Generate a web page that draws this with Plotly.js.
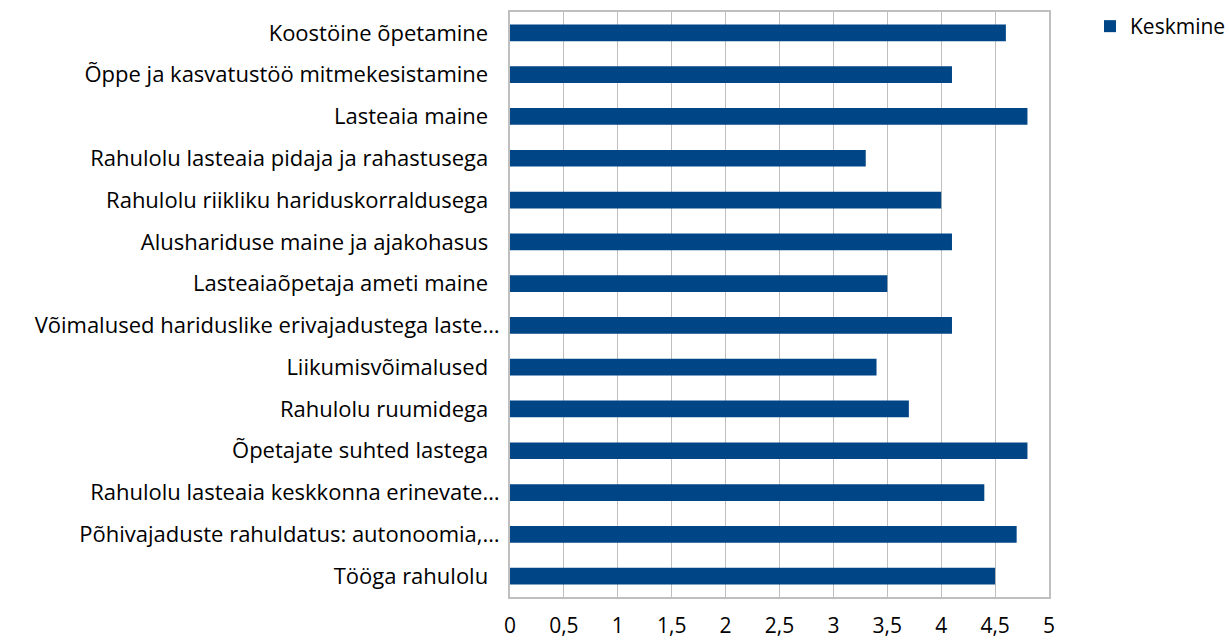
<!DOCTYPE html>
<html><head><meta charset="utf-8">
<script src="https://cdn.plot.ly/plotly-3.0.1.min.js"></script>
<style>html,body{margin:0;padding:0;background:#fff;}#c{width:1229px;height:642px;}</style>
</head><body><div id="c"></div>
<script>
const categories = [
  "Koostöine õpetamine",
  "Õppe ja kasvatustöö mitmekesistamine",
  "Lasteaia maine",
  "Rahulolu lasteaia pidaja ja rahastusega",
  "Rahulolu riikliku hariduskorraldusega",
  "Alushariduse maine ja ajakohasus",
  "Lasteaiaõpetaja ameti maine",
  "Võimalused hariduslike erivajadustega laste…",
  "Liikumisvõimalused",
  "Rahulolu ruumidega",
  "Õpetajate suhted lastega",
  "Rahulolu lasteaia keskkonna erinevate…",
  "Põhivajaduste rahuldatus: autonoomia,…",
  "Tööga rahulolu"
];
const keskmine = [4.6, 4.1, 4.8, 3.3, 4.0, 4.1, 3.5, 4.1, 3.4, 3.7, 4.8, 4.4, 4.7, 4.5];
const xTickVals = [0,0.5,1,1.5,2,2.5,3,3.5,4,4.5,5];
const xTickText = ["0","0,5","1","1,5","2","2,5","3","3,5","4","4,5","5"];
const seriesName = "Keskmine";

const labels = categories.map(c => c.endsWith("…") ? c : c + "\u00a0\u00a0");

Plotly.newPlot("c", [{
  type: "bar", orientation: "h",
  y: labels, x: keskmine, name: seriesName,
  marker: {color: "#004586"},
  showlegend: true
}], {
  width: 1229, height: 642,
  separators: ", ",
  margin: {l: 510, r: 180, t: 12, b: 45, autoexpand: false},
  paper_bgcolor: "#fff", plot_bgcolor: "#fff",
  font: {family: "'Open Sans', sans-serif", size: 22, color: "#000"},
  bargap: 0.6,
  xaxis: {
    range: [0, 5], tickmode: "array", tickvals: xTickVals, ticktext: xTickText,
    tickfont: {size: 21},
    showgrid: true, gridcolor: "#BFBFBF", gridwidth: 1,
    showline: true, linecolor: "#BFBFBF", linewidth: 2, mirror: true,
    zeroline: false, ticks: "", ticklabelstandoff: 9, automargin: false,
    fixedrange: true
  },
  yaxis: {
    autorange: "reversed", type: "category", automargin: false,
    showline: true, linecolor: "#BFBFBF", linewidth: 2, mirror: true,
    showgrid: false, ticks: "", ticklabelstandoff: 4, fixedrange: true
  },
  legend: {x: 1090 / 1229, y: 1 - 6 / 642, xref: "container", yref: "container", xanchor: "left", yanchor: "top",
    font: {size: 21}, itemwidth: 30, bgcolor: "rgba(0,0,0,0)"},
  showlegend: true
}, {displayModeBar: false, staticPlot: true});
</script></body></html>
